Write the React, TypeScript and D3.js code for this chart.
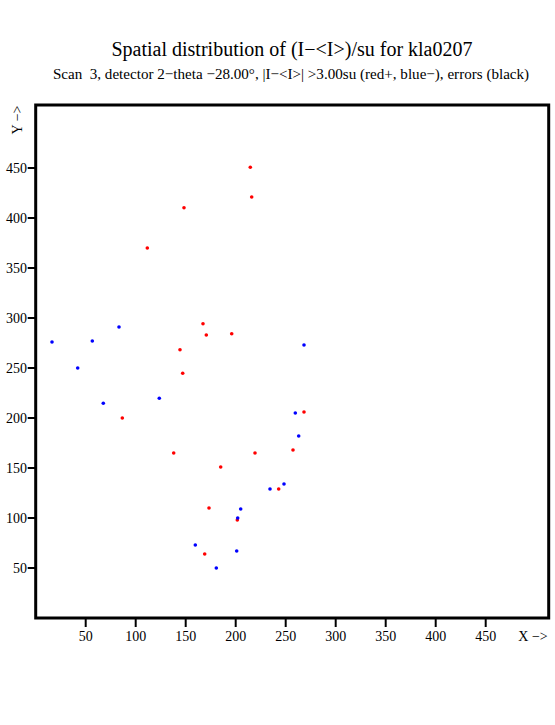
import { useRef, useEffect } from 'react';
import * as d3 from 'd3';

// positive deviations (red) and negative deviations (blue), detector coords
const redX = [214.6, 216, 148.3, 111.6, 167.3, 170.6, 196, 144.3, 147, 86.6, 268.3, 138, 219.3, 185, 257.3, 243, 173.3, 201.6, 169];
const redY = [450.7, 421, 410.3, 370, 294.3, 283, 284.3, 268.3, 244.7, 200, 206, 165, 165, 151, 168, 129, 110, 98, 64];
const blueX = [16.3, 56.6, 83.3, 42, 268.3, 67.6, 123.6, 259.6, 263, 234.3, 248.3, 205, 202, 159.6, 201, 180.6];
const blueY = [276, 277, 291, 250, 273, 214.7, 219.7, 205, 182, 129, 134, 109, 100, 73, 67, 50];
const ticks = [50, 100, 150, 200, 250, 300, 350, 400, 450];

const title = 'Spatial distribution of (I\u2212<I>)/su for kla0207';
const subtitle = 'Scan  3, detector 2\u2212theta \u221228.00\u00b0, |I\u2212<I>| >3.00su (red+, blue\u2212), errors (black)';

const App = () => {
  const svgRef = useRef<SVGSVGElement>(null);

  useEffect(() => {
    const svg = d3.select(svgRef.current);
    svg.selectAll('*').remove();

    const x = d3.scaleLinear().domain([0, 513]).range([35.7, 548.7]);
    const y = d3.scaleLinear().domain([0, 513]).range([618, 105]);
    const font = '"Liberation Serif", "Times New Roman", serif';

    svg.append('text')
      .attr('x', 292).attr('y', 56)
      .attr('text-anchor', 'middle')
      .style('font-family', font).style('font-size', '20px')
      .text(title);

    svg.append('text')
      .attr('x', 291).attr('y', 79)
      .attr('text-anchor', 'middle')
      .attr('xml:space', 'preserve')
      .style('white-space', 'pre')
      .style('font-family', font).style('font-size', '15.1px')
      .text(subtitle);

    // frame
    svg.append('rect')
      .attr('x', x(0)).attr('y', y(513))
      .attr('width', x(513) - x(0)).attr('height', y(0) - y(513))
      .attr('fill', 'none').attr('stroke', '#000').attr('stroke-width', 3);

    // x ticks
    const gx = svg.append('g');
    ticks.forEach(t => {
      gx.append('line')
        .attr('x1', x(t)).attr('x2', x(t))
        .attr('y1', y(0)).attr('y2', y(0) + 9)
        .attr('stroke', '#000').attr('stroke-width', 2);
      gx.append('text')
        .attr('x', x(t)).attr('y', 641)
        .attr('text-anchor', 'middle')
        .style('font-family', font).style('font-size', '14px')
        .text(t);
    });
    svg.append('text')
      .attr('x', 533).attr('y', 641)
      .attr('text-anchor', 'middle')
      .style('font-family', font).style('font-size', '14px')
      .text('X \u2212>');

    // y ticks
    const gy = svg.append('g');
    ticks.forEach(t => {
      gy.append('line')
        .attr('x1', x(0) - 8).attr('x2', x(0))
        .attr('y1', y(t)).attr('y2', y(t))
        .attr('stroke', '#000').attr('stroke-width', 2);
      gy.append('text')
        .attr('x', 27).attr('y', y(t) + 5)
        .attr('text-anchor', 'end')
        .style('font-family', font).style('font-size', '14px')
        .text(t);
    });
    svg.append('text')
      .attr('transform', 'translate(22,120) rotate(-90)')
      .attr('text-anchor', 'middle')
      .style('font-family', font).style('font-size', '14px')
      .text('Y \u2212>');

    // points
    svg.append('g').selectAll('circle')
      .data(redX.map((v, i) => [v, redY[i]]))
      .enter().append('circle')
      .attr('cx', d => x(d[0])).attr('cy', d => y(d[1]))
      .attr('r', 1.8).attr('fill', '#ff0000');

    svg.append('g').selectAll('circle')
      .data(blueX.map((v, i) => [v, blueY[i]]))
      .enter().append('circle')
      .attr('cx', d => x(d[0])).attr('cy', d => y(d[1]))
      .attr('r', 1.8).attr('fill', '#0000ff');
  }, []);

  return (
    <svg ref={svgRef} width="555" height="725"
      style={{ position: 'absolute', left: 0, top: 0, background: '#fff' }} />
  );
};

export default App;
